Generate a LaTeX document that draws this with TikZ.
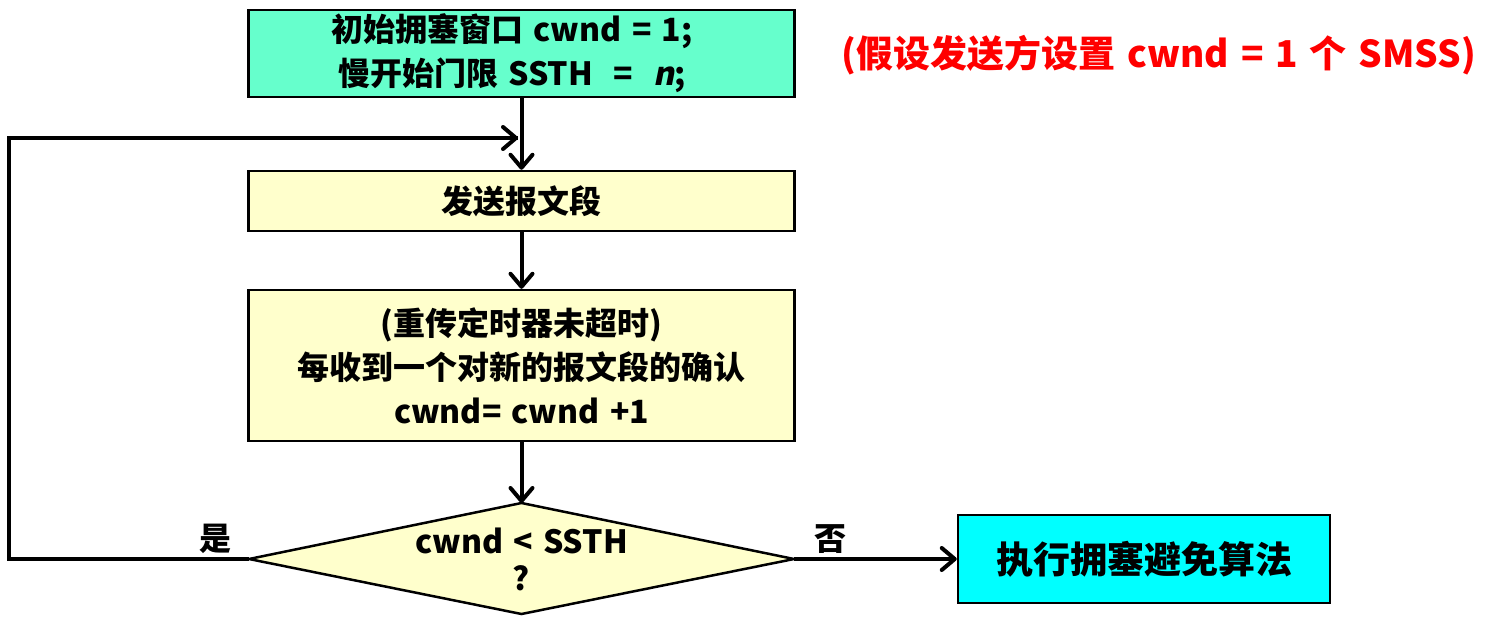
\documentclass[tikz,border=0pt]{standalone}
\usepackage{fontspec}
\setmainfont{Noto Sans CJK SC}[WordSpace=1.4]
\newfontfamily\slantfont{Noto Sans CJK SC}[FakeSlant=0.2]
\usetikzlibrary{arrows.meta}
\definecolor{boxgreen}{HTML}{66FFCC}
\definecolor{boxyellow}{HTML}{FFFFCC}
\definecolor{boxcyan}{HTML}{00FFFF}
\tikzset{
  x=1pt, y=-1pt,
  flowbox/.style={draw=black, line width=2.5pt, minimum width=546pt, inner sep=0pt, align=center,
    font=\fontsize{32}{44}\selectfont\bfseries},
  conn/.style={line width=4pt, -{Straight Barb[length=13pt,width=22pt,round]}},
  plainconn/.style={line width=4pt},
  lbl/.style={font=\fontsize{32}{38}\selectfont\bfseries, inner sep=0pt}
}
\begin{document}
\begin{tikzpicture}
\useasboundingbox (0,0) rectangle (1487,616);
% boxes
\node[flowbox, fill=boxgreen, minimum height=87pt] (b1) at (521.5,53.5) {};
\node[lbl, align=center, font=\fontsize{32}{44}\selectfont\bfseries] (b1text) at (512,53.5)
  {初始拥塞窗口 cwnd = 1;\\慢开始门限 SSTH \ = \ {\slantfont n};};
\node[flowbox, fill=boxyellow, minimum height=60pt] (b2) at (521.5,201) {发送报文段};
\node[flowbox, fill=boxyellow, minimum height=151pt] (b3) at (521.5,365.5)
  {(重传定时器未超时)\\每收到一个对新的报文段的确认\\cwnd= cwnd +1};
% diamond
\coordinate (dtop) at (521.5,503);
\coordinate (dright) at (794,559);
\coordinate (dbottom) at (521.5,614);
\coordinate (dleft) at (249,559);
\draw[line width=2.5pt, fill=boxyellow, line join=miter] (dtop) -- (dright) -- (dbottom) -- (dleft) -- cycle;
\node[lbl, align=center, font=\fontsize{32}{37}\selectfont\bfseries] (dtext) at (521.5,559) {cwnd \textless{} SSTH\\?};
% right box
\node[flowbox, fill=boxcyan, minimum width=372pt, minimum height=88pt,
  font=\fontsize{37}{44}\selectfont\bfseries] (b4) at (1144,559) {执行拥塞避免算法};
% note
\node[lbl, text=red, font=\fontsize{37}{44}\selectfont\bfseries] (note) at (1159,55)
  {(假设发送方设置 cwnd = 1 个 SMSS)};
% connectors
\draw[conn] (b1.south) -- (b2.north);
\draw[conn] (b2.south) -- (b3.north);
\draw[conn] (b3.south) -- (dtop);
\coordinate (c1) at (8.5,559);
\coordinate (c2) at (8.5,138);
\coordinate (fbend) at (518,138);
\draw[plainconn, line join=miter] (dleft) -- (c1) -- (c2) -- (fbend);
\draw[conn] (c2) -- (fbend);
\draw[conn] (dright) -- (b4.west);
% labels
\node[lbl] (yes) at (215,539) {是};
\node[lbl] (no) at (830,539) {否};
\end{tikzpicture}
\end{document}
